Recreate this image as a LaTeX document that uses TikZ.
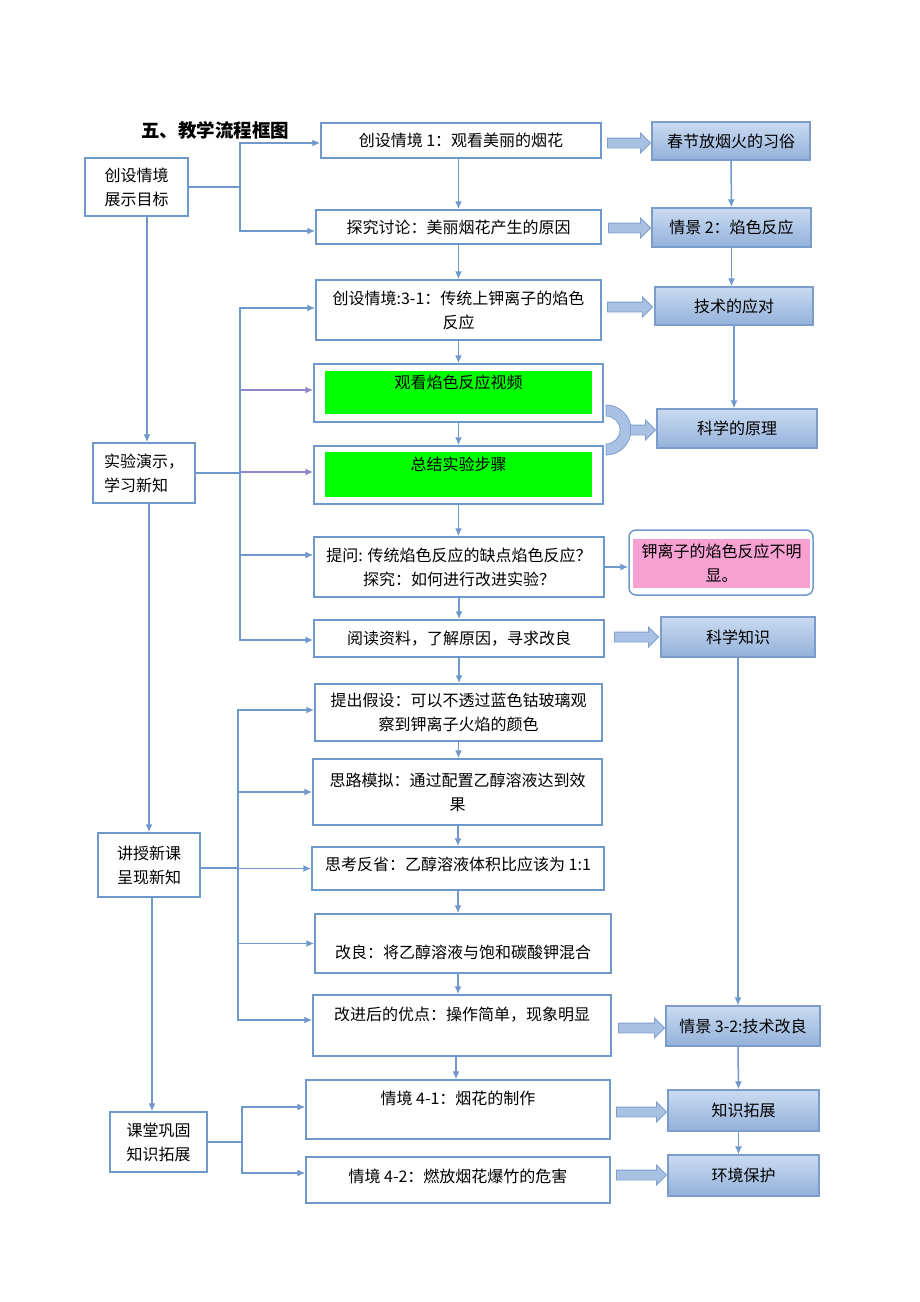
\documentclass[tikz,border=0pt]{standalone}
\usepackage{fontspec}
\setmainfont{Noto Sans CJK SC}
\usetikzlibrary{arrows.meta,shapes.arrows}

\definecolor{lineblue}{HTML}{6F98CC}
\definecolor{purpline}{HTML}{9184C8}
\definecolor{sideline}{HTML}{7C9CCB}
\definecolor{boxtop}{HTML}{CADBF1}
\definecolor{boxbot}{HTML}{93B1DA}
\definecolor{arrfill}{HTML}{A9C2E3}
\definecolor{arrline}{HTML}{7E9ECC}
\definecolor{pinkfill}{HTML}{F7A0D2}

\begin{document}
\begin{tikzpicture}[x=1pt,y=-1pt,
  font=\fontsize{16}{24}\selectfont,
  >={Latex[length=8pt,width=7pt]},
  box/.style={draw=lineblue,line width=1.5pt,fill=white,align=center,inner sep=0pt},
  sidebox/.style={draw=sideline,line width=1.2pt,top color=boxtop,bottom color=boxbot,inner sep=0pt},
  lift/.style={text height=14pt,text depth=#1},
  greenbox/.style={fill=green,inner sep=0pt,lift=23pt},
  fatarrow/.style={single arrow,draw=arrline,fill=arrfill,line width=0.8pt,
    minimum width=19pt,single arrow head extend=5pt,inner sep=4.5pt},
  link/.style={color=lineblue,line width=1.5pt},
  plink/.style={color=purpline,line width=1.5pt}]
\path[use as bounding box,fill=white] (0,0) rectangle (920,1302);

\node[font=\bfseries\fontsize{18.5}{22}\selectfont] at (215,130) (title) {五、教学流程框图};

% left column
\node[box,minimum width=103,minimum height=58] at (136.5,187) (l1) {创设情境\\展示目标};
\node[box,align=left,minimum width=102,minimum height=60] at (144,473) (l2) {实验演示，\\学习新知};
\node[box,minimum width=102,minimum height=64] at (149,865) (l3) {讲授新课\\呈现新知};
\node[box,minimum width=97,minimum height=60] at (158.5,1142) (l4) {课堂巩固\\知识拓展};

% middle column
\node[box,minimum width=280,minimum height=35] at (461,140.5) (m1) {创设情境 1：观看美丽的烟花};
\node[box,minimum width=285,minimum height=34] at (458.5,227) (m2) {探究讨论：美丽烟花产生的原因};
\node[box,minimum width=285,minimum height=60] at (458.5,310) (m3) {创设情境:3-1：传统上钾离子的焰色\\反应};
\node[box,minimum width=289,minimum height=58] at (458.5,393) (m4) {};
\node[greenbox,minimum width=267,minimum height=43] at (458.5,392.5) (g4) {观看焰色反应视频};
\node[box,minimum width=289,minimum height=58] at (458.5,475) (m5) {};
\node[greenbox,minimum width=267,minimum height=45] at (458.5,474.5) (g5) {总结实验步骤};
\node[box,minimum width=290,minimum height=60] at (459,567) (m6) {提问: 传统焰色反应的缺点焰色反应？\\探究：如何进行改进实验？};
\node[box,minimum width=290,minimum height=37] at (459,638.5) (m7) {阅读资料，了解原因，寻求改良};
\node[box,minimum width=287,minimum height=57] at (458.5,712.5) (m8) {提出假设：可以不透过蓝色钴玻璃观\\察到钾离子火焰的颜色};
\node[box,minimum width=289,minimum height=66] at (457.5,792) (m9) {思路模拟：通过配置乙醇溶液达到效\\果};
\node[box,lift=9.5pt,minimum width=292,minimum height=43] at (458,868.5) (m10) {思考反省：乙醇溶液体积比应该为 1:1};
\node[box,text height=31pt,text depth=2pt,minimum width=296,minimum height=59] at (463,943.5) (m11) {改良：将乙醇溶液与饱和碳酸钾混合};
\node[box,lift=25pt,minimum width=298,minimum height=61] at (462,1025.5) (m12) {改进后的优点：操作简单，现象明显};
\node[box,lift=25pt,minimum width=304,minimum height=59] at (458,1109.5) (m13) {情境 4-1：烟花的制作};
\node[box,lift=10pt,minimum width=304,minimum height=46] at (458,1180) (m14) {情境 4-2：燃放烟花爆竹的危害};

% right column
\node[sidebox,minimum width=158,minimum height=38] at (731,141) (r1) {春节放烟火的习俗};
\node[sidebox,minimum width=159,minimum height=39] at (731.5,227.5) (r2) {情景 2：焰色反应};
\node[sidebox,minimum width=158,minimum height=38] at (734,306) (r3) {技术的应对};
\node[sidebox,minimum width=160,minimum height=39] at (737,428.5) (r4) {科学的原理};
\node[box,rounded corners=7pt,minimum width=184,minimum height=65] at (721,562.5) (r5) {};
\node[fill=pinkfill,inner sep=0pt,align=center,minimum width=177,minimum height=49] at (721.5,563.5) (p5) {钾离子的焰色反应不明\\显。};
\node[sidebox,minimum width=154,minimum height=40] at (738,637) (r6) {科学知识};
\node[sidebox,minimum width=154,minimum height=40] at (743,1026) (r7) {情景 3-2:技术改良};
\node[sidebox,minimum width=151,minimum height=41] at (743.5,1110.5) (r8) {知识拓展};
\node[sidebox,minimum width=151,minimum height=41] at (743.5,1175.5) (r9) {环境保护};

% fat arrows
\node[fatarrow,minimum height=43] at (626.5,143) (a1) {};
\node[fatarrow,minimum height=42] at (627,228) (a2) {};
\node[fatarrow,minimum height=45] at (627.5,307) (a3) {};
\node[fatarrow,minimum height=44] at (634,637) (a4) {};
\node[fatarrow,minimum height=46] at (639,1028) (a5) {};
\node[fatarrow,minimum height=50] at (639,1112) (a6) {};
\node[fatarrow,minimum height=50] at (639,1175) (a7) {};
\filldraw[draw=arrline,fill=arrfill,line width=0.8pt] (606,405) arc[start angle=90,end angle=-90,radius=25pt]
  -- (606,444) arc[start angle=-90,end angle=90,radius=14pt] -- cycle;
\node[fatarrow,minimum height=25] at (640.5,430) (a8) {};

% left spine
\path[link,->] ([xshift=10.5pt]l1.south) edge ([xshift=3pt]l2.north);
\path[link,->] ([xshift=5pt]l2.south) edge (l3.north);
\path[link,->] ([xshift=3pt]l3.south) edge ([xshift=-6.5pt]l4.north);

% middle column
\path[link,->] (m2.north |- m1.south) edge (m2.north);
\path[link,->] (m2) edge (m3);
\path[link,->] (m3) edge (m4);
\path[link,->] (m4) edge (m5);
\path[link,->] (m5.south) edge (m5.south |- m6.north);
\path[link,->] (m6) edge (m7);
\path[link,->] (m7.south) edge (m7.south |- m8.north);
\path[link,->] (m8.south) edge (m8.south |- m9.north);
\path[link,->] (m9.south -| m10.north) edge (m10.north);
\path[link,->] (m10.south) edge (m10.south |- m11.north);
\path[link,->] (m11.south -| m10.south) edge (m10.south |- m12.north);
\path[link,->] ([xshift=-6pt]m12.south) edge ([xshift=-2pt]m13.north);
\path[link,->] (m6.east) edge (m6.east -| r5.west);

% right column
\path[link,->] (r1) edge (r2);
\path[link,->] (r2.south) edge (r2.south |- r3.north);
\path[link,->] (r3.south) edge (r3.south |- r4.north);
\path[link,->] (r6.south) edge (r6.south |- r7.north);
\path[link,->] ([xshift=-5pt]r7.south) edge ([xshift=-5pt]r8.north);
\path[link,->] ([xshift=-5pt]r8.south) edge ([xshift=-5pt]r9.north);

% branches
\coordinate (k1) at (240,187);
\draw[link] (l1.east |- k1) -- (k1);
\draw[link,->] (k1) |- ([yshift=-2.5pt]m1.west);
\draw[link,->] (k1) |- ([yshift=-4pt]m2.west);

\coordinate (k2) at (240,473);
\draw[link] (l2.east |- k2) -- (k2);
\draw[plink,->] (k2) |- ([yshift=3pt]m4.west);
\draw[plink,->] (k2) |- ([yshift=3pt]m5.west);
\draw[link,->] (k2) |- ([yshift=2pt]m3.west);
\draw[link,->] (k2) |- ([yshift=12pt]m6.west);
\draw[link,->] (k2) |- ([yshift=-1.5pt]m7.west);

\coordinate (k3) at (238,868);
\draw[link] (l3.east |- k3) -- (k3);
\draw[link,->] (k3) |- ([yshift=2.5pt]m8.west);
\draw[link,->] (k3) |- (m9.west);
\draw[link,->] (k3) |- (m10.west);
\draw[link,->] (k3) |- (m11.west);
\draw[link,->] (k3) |- ([yshift=5.5pt]m12.west);

\coordinate (k4) at (242,1142);
\draw[link] (l4.east |- k4) -- (k4);
\draw[link,->] (k4) |- ([yshift=2.5pt]m13.west);
\draw[link,->] (k4) |- ([yshift=7pt]m14.west);
\end{tikzpicture}
\end{document}
